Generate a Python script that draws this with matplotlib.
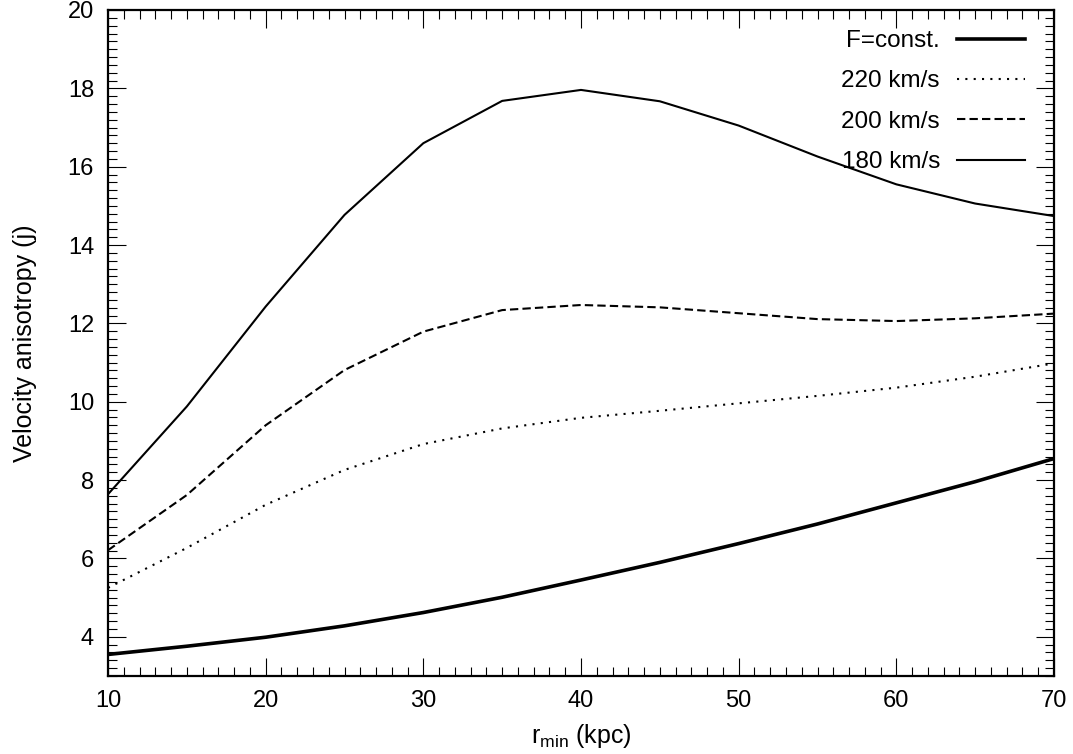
import matplotlib
matplotlib.use("Agg")
import matplotlib.pyplot as plt
from matplotlib.ticker import MultipleLocator

plt.rcParams['font.family'] = ['Liberation Sans', 'DejaVu Sans']
plt.rcParams['mathtext.fontset'] = 'custom'
plt.rcParams['mathtext.rm'] = 'Liberation Sans'
plt.rcParams['mathtext.it'] = 'Liberation Sans'

# r_min values (kpc)
r_min = [10, 15, 20, 25, 30, 35, 40, 45, 50, 55, 60, 65, 70]

# velocity anisotropy for each model
f_const = [3.55, 3.76, 3.99, 4.28, 4.62, 5.01, 5.45, 5.90, 6.38, 6.88, 7.42, 7.96, 8.55]
v220 = [5.25, 6.27, 7.37, 8.26, 8.92, 9.32, 9.59, 9.77, 9.96, 10.15, 10.36, 10.64, 10.98]
v200 = [6.21, 7.62, 9.40, 10.81, 11.79, 12.34, 12.47, 12.41, 12.26, 12.11, 12.06, 12.13, 12.25]
v180 = [7.64, 9.88, 12.43, 14.77, 16.60, 17.68, 17.96, 17.67, 17.05, 16.26, 15.55, 15.06, 14.74]

fig = plt.figure(figsize=(10.73, 7.54), dpi=100)
ax = fig.add_axes([108/1073, 1-676/754, (1054-108)/1073, (676-10)/754])

ax.plot(r_min, f_const, color='black', lw=2.6, label='F=const.')
ax.plot(r_min, v220, color='black', lw=1.5, ls=(0, (1, 3)), label='220 km/s')
ax.plot(r_min, v200, color='black', lw=1.5, ls=(0, (4, 2)), label='200 km/s')
ax.plot(r_min, v180, color='black', lw=1.5, label='180 km/s')

ax.set_xlim(10, 70)
ax.set_ylim(3, 20)
ax.xaxis.set_major_locator(MultipleLocator(10))
ax.xaxis.set_minor_locator(MultipleLocator(1))
ax.yaxis.set_minor_locator(MultipleLocator(0.2))
ax.set_yticks([4, 6, 8, 10, 12, 14, 16, 18, 20])

ax.tick_params(which='both', direction='in', top=True, right=True, width=0.8)
ax.tick_params(which='major', length=13, labelsize=17, pad=10)
ax.tick_params(which='minor', length=6.5)
for s in ax.spines.values():
    s.set_linewidth(1.6)

ax.set_xlabel(r'$\mathregular{r_{min}}$ (kpc)', fontsize=18, labelpad=7)
ax.set_ylabel('Velocity anisotropy (j)', fontsize=18, labelpad=22)

leg = ax.legend(loc='upper right', bbox_to_anchor=(1025/1073, 1-30/754),
                bbox_transform=fig.transFigure, frameon=False, markerfirst=False,
                fontsize=17.5, handlelength=2.8, handletextpad=0.7,
                labelspacing=0.76, borderpad=0, borderaxespad=0)

fig.savefig('out.png', dpi=100)
